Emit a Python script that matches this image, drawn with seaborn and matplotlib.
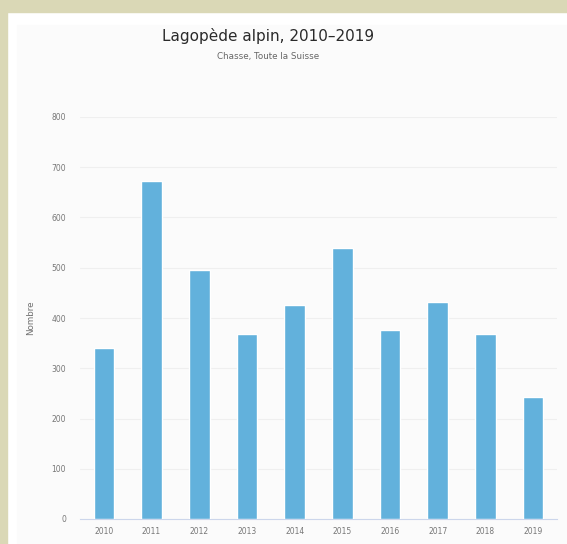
import matplotlib
matplotlib.use("Agg")
import matplotlib.pyplot as plt
import matplotlib.patches as mpatches
import pandas as pd
import seaborn as sns

# Data
years = ["2010", "2011", "2012", "2013", "2014", "2015", "2016", "2017", "2018", "2019"]
counts = [341, 673, 495, 368, 425, 540, 376, 432, 369, 243]
y_ticks = [0, 100, 200, 300, 400, 500, 600, 700, 800]

title = "Lagopède alpin, 2010–2019"
subtitle = "Chasse, Toute la Suisse"
y_label = "Nombre"

BAR_COLOR = "#62b1dc"
BEIGE = "#dad8b6"

sns.set_style("white")
plt.rcParams["font.family"] = ["DejaVu Sans"]

df = pd.DataFrame({"year": years, "count": counts})

fig = plt.figure(figsize=(5.67, 5.44), dpi=100)
fig.patch.set_facecolor("white")

# Scanned-page border (top and left) and faint chart background
fig.add_artist(mpatches.Rectangle((0, 1 - 12 / 544), 1, 12 / 544,
                                  transform=fig.transFigure, color=BEIGE, zorder=0))
fig.add_artist(mpatches.Rectangle((0, 0), 7 / 567, 1,
                                  transform=fig.transFigure, color=BEIGE, zorder=0))
fig.add_artist(mpatches.Rectangle((17 / 567, 0), 1 - 17 / 567, 1 - 25 / 544,
                                  transform=fig.transFigure, color="#fbfbfb", zorder=0))

ax = fig.add_axes([80 / 567, 25 / 544, 477 / 567, 402 / 544])
ax.set_facecolor("none")

sns.barplot(data=df, x="year", y="count", color=BAR_COLOR, width=0.43,
            saturation=1, ax=ax, zorder=3)

ax.set_ylim(0, 800)
ax.set_yticks(y_ticks)
ax.set_yticklabels([str(t) for t in y_ticks])
ax.yaxis.grid(True, color="#efefef", linewidth=0.8, zorder=0)
ax.set_axisbelow(True)
for side in ["top", "right", "left"]:
    ax.spines[side].set_visible(False)
ax.spines["bottom"].set_color("#ccd6eb")
ax.spines["bottom"].set_linewidth(0.8)

ax.tick_params(axis="both", length=0, labelsize=5.5, labelcolor="#777777")
ax.tick_params(axis="y", pad=10)
ax.tick_params(axis="x", pad=6)
ax.set_xlabel("")
ax.set_ylabel(y_label, fontsize=6.3, color="#707070", labelpad=12)

fig.text(268 / 567, 1 - 36 / 544, title, ha="center", va="center",
         fontsize=11, color="#2a2a2a")
fig.text(268 / 567, 1 - 57 / 544, subtitle, ha="center", va="center",
         fontsize=6.3, color="#666666")

fig.savefig("out.png", dpi=100)
